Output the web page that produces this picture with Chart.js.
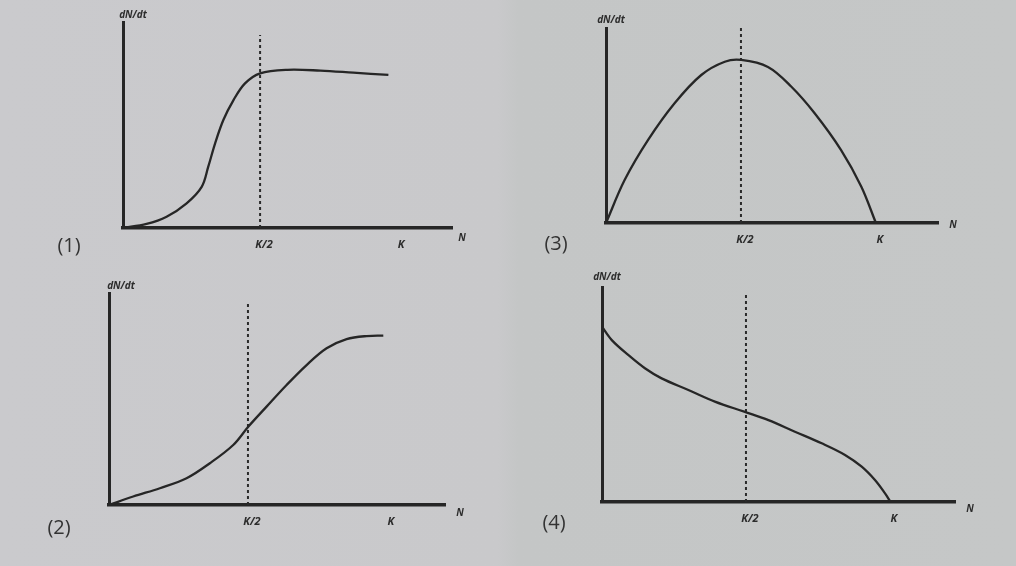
<!DOCTYPE html>
<html>
<head>
<meta charset="utf-8">
<script src="https://cdn.jsdelivr.net/npm/chart.js@4.4.1/dist/chart.umd.min.js"></script>
<style>
  html, body { margin: 0; padding: 0; }
  body {
    width: 1016px; height: 566px; overflow: hidden; position: relative;
    background: linear-gradient(90deg, #cacacd 0%, #c9c9cb 49%, #c4c6c6 51%, #c5c7c7 100%);
  }
  .wrap { position: absolute; }
  canvas { display: block; }
</style>
</head>
<body>
<div class="wrap" style="left:0;top:0"><canvas id="c1" width="508" height="283"></canvas></div>
<div class="wrap" style="left:508px;top:0"><canvas id="c3" width="508" height="283"></canvas></div>
<div class="wrap" style="left:0;top:263px"><canvas id="c2" width="508" height="303"></canvas></div>
<div class="wrap" style="left:508px;top:263px"><canvas id="c4" width="508" height="303"></canvas></div>
<script>
// ---- data (N in units of K, dN/dt in relative units) ----
const tickLabels = { 0.5: 'K/2', 1: 'K' };
const xAxisTitle = 'N';
const yAxisTitle = 'dN/dt';

const curve1N = [0, 0.086, 0.159, 0.232, 0.287, 0.311, 0.336, 0.366, 0.403, 0.445, 0.5, 0.6, 0.72, 0.84, 0.968];
const curve1Y = [0, 0.02, 0.055, 0.12, 0.2, 0.298, 0.411, 0.524, 0.621, 0.702, 0.751, 0.768, 0.764, 0.754, 0.743];

const curve2N = [0, 0.087, 0.183, 0.279, 0.363, 0.447, 0.501, 0.567, 0.639, 0.711, 0.783, 0.855, 0.927, 0.987];
const curve2Y = [0, 0.04, 0.079, 0.126, 0.197, 0.283, 0.369, 0.464, 0.566, 0.66, 0.739, 0.782, 0.797, 0.799];

const curve3N = [0, 0.069, 0.156, 0.254, 0.353, 0.44, 0.501, 0.6, 0.686, 0.773, 0.871, 0.946, 1.0];
const curve3Y = [0, 0.22, 0.426, 0.614, 0.759, 0.827, 0.836, 0.80, 0.70, 0.563, 0.374, 0.186, 0];

const curve4N = [0, 0.034, 0.091, 0.149, 0.207, 0.30, 0.392, 0.494, 0.578, 0.67, 0.763, 0.844, 0.902, 0.948, 0.983, 1.0];
const curve4Y = [0.815, 0.753, 0.684, 0.622, 0.575, 0.521, 0.467, 0.42, 0.381, 0.327, 0.273, 0.219, 0.164, 0.102, 0.04, 0.005];

const panelLabels = ['(1)', '(2)', '(3)', '(4)'];
const dashHeights = [0.937, 0.962, 1.0, 0.972];
const xMaxes = [1.2, 1.209, 1.23, 1.226];

const ink = '#262626';

function toPts(ns, ys) { return ns.map((n, i) => ({ x: n, y: ys[i] })); }

// layout per panel: chart area inside its canvas
const panels = [
  { id: 'c1', label: panelLabels[0], N: curve1N, Y: curve1Y, dash: dashHeights[0], xmax: xMaxes[0],
    pad: { left: 123, top: 22, right: 56, bottom: 25 },
    yt: [10, -7], nt: [10, 10], pl: [69, 246] },
  { id: 'c2', label: panelLabels[1], N: curve2N, Y: curve2Y, dash: dashHeights[1], xmax: xMaxes[1],
    pad: { left: 109, top: 30, right: 63, bottom: 31 },
    yt: [12, -7], nt: [15, 8], pl: [59, 265] },
  { id: 'c3', label: panelLabels[2], N: curve3N, Y: curve3Y, dash: dashHeights[2], xmax: xMaxes[2],
    pad: { left: 98, top: 28, right: 78, bottom: 30 },
    yt: [5, -8], nt: [15, 2], pl: [48, 244] },
  { id: 'c4', label: panelLabels[3], N: curve4N, Y: curve4Y, dash: dashHeights[3], xmax: xMaxes[3],
    pad: { left: 94, top: 24, right: 61, bottom: 34 },
    yt: [5, -10], nt: [15, 7], pl: [46, 260] }
];

const labelsPlugin = {
  id: 'labelsPlugin',
  afterDraw(chart, args, opts) {
    const { ctx, chartArea } = chart;
    ctx.save();
    ctx.fillStyle = '#2c2c2c';
    ctx.textAlign = 'center';
    ctx.textBaseline = 'middle';
    ctx.font = 'italic bold 10px "Open Sans", sans-serif';
    ctx.fillText(yAxisTitle, chartArea.left + opts.yt[0], chartArea.top + opts.yt[1]);
    ctx.fillText(xAxisTitle, chartArea.right + opts.nt[0], chartArea.bottom + opts.nt[1]);
    ctx.font = '20px "Open Sans", sans-serif';
    ctx.fillStyle = '#333';
    ctx.fillText(opts.label, opts.pl[0], opts.pl[1]);
    ctx.restore();
  }
};

panels.forEach(p => {
  new Chart(document.getElementById(p.id), {
    type: 'scatter',
    data: {
      datasets: [
        {
          data: toPts(p.N, p.Y),
          showLine: true, borderColor: ink, borderWidth: 2.3,
          pointRadius: 0, tension: 0.35, fill: false
        },
        {
          data: [{ x: 0.5, y: 0 }, { x: 0.5, y: p.dash }],
          showLine: true, borderColor: '#2a2a2a', borderWidth: 2,
          borderDash: [3, 3], pointRadius: 0, fill: false
        }
      ]
    },
    options: {
      responsive: false, animation: false, devicePixelRatio: 1,
      layout: { padding: p.pad },
      plugins: {
        legend: { display: false }, tooltip: { enabled: false },
        labelsPlugin: { yt: p.yt, nt: p.nt, pl: p.pl, label: p.label }
      },
      scales: {
        x: {
          type: 'linear', min: 0, max: p.xmax,
          grid: { display: false, drawTicks: false },
          border: { display: true, color: ink, width: 3.5 },
          afterBuildTicks: s => { s.ticks = [{ value: 0.5 }, { value: 1 }]; },
          afterFit: s => { s.height = 30; },
          ticks: {
            padding: 10, color: '#2c2c2c', labelOffset: 4,
            font: { family: '"Open Sans", sans-serif', size: 11, style: 'italic', weight: 'bold' },
            callback: v => tickLabels[v] || ''
          }
        },
        y: {
          type: 'linear', min: 0, max: 1,
          grid: { display: false, drawTicks: false },
          border: { display: true, color: ink, width: 3 },
          ticks: { display: false },
          afterFit: s => { s.width = 0; }
        }
      }
    },
    plugins: [labelsPlugin]
  });
});
</script>
</body>
</html>
